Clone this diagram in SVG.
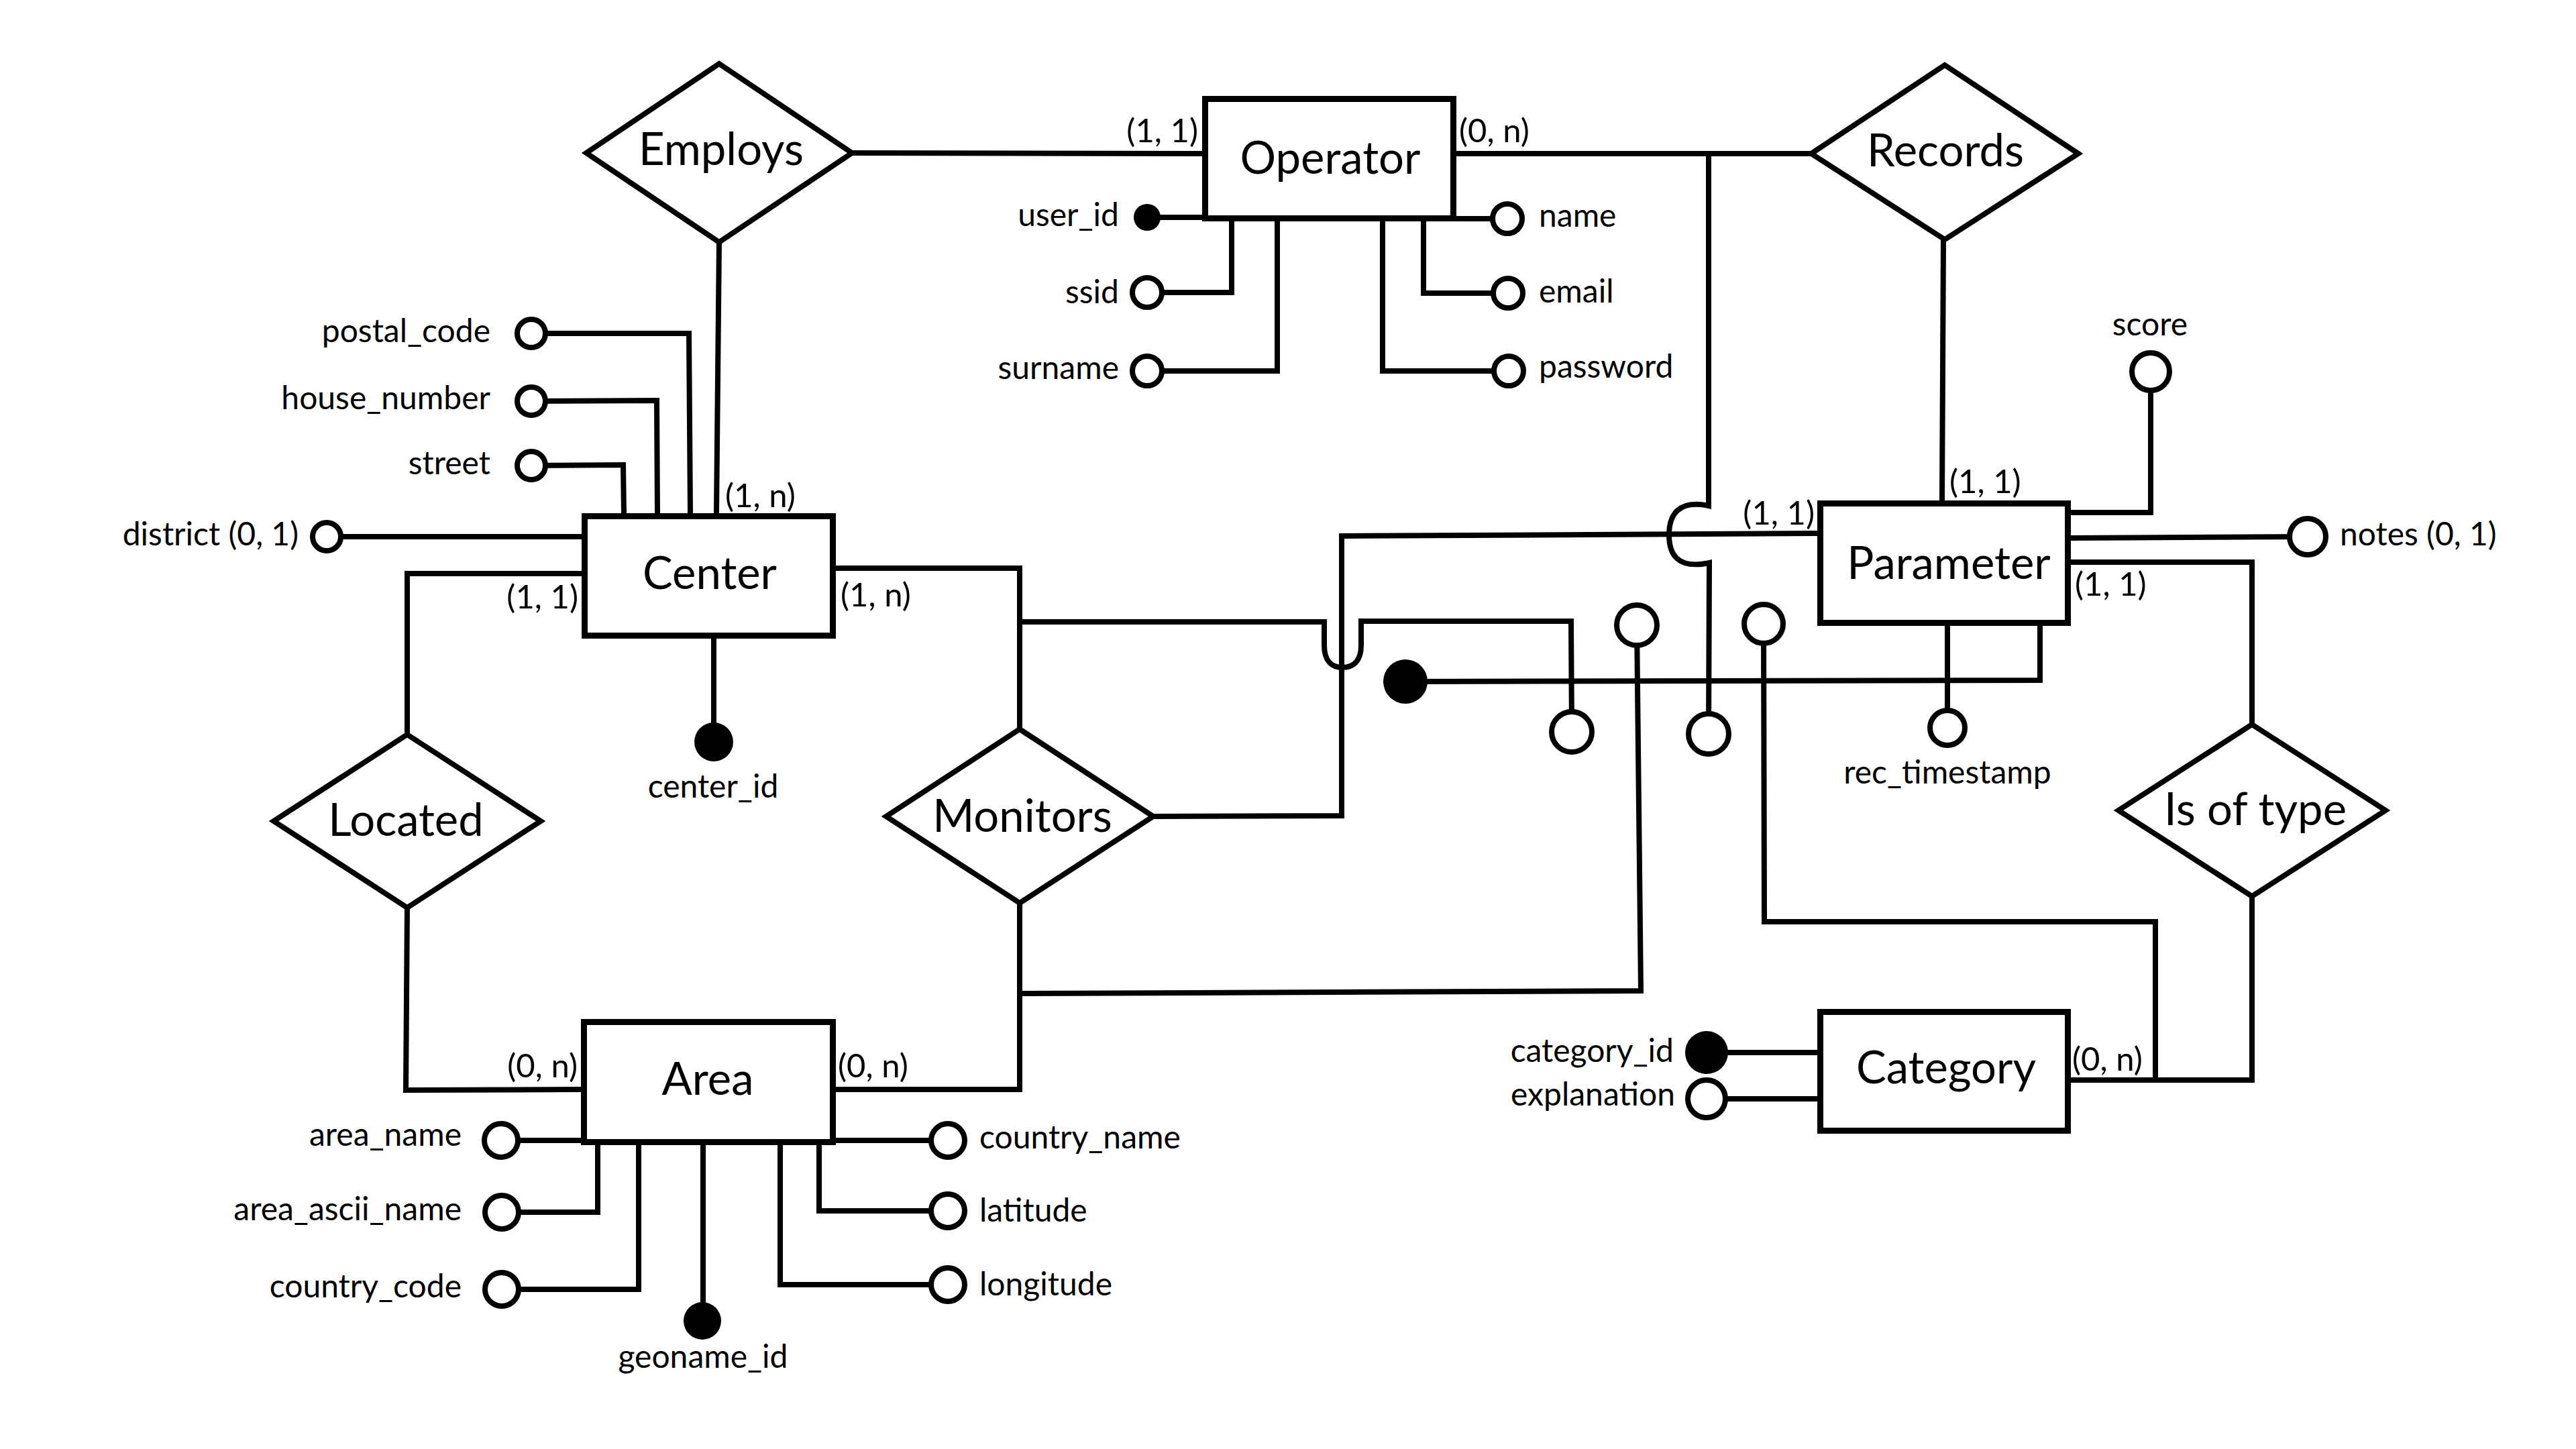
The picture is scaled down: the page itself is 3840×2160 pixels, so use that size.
<svg xmlns="http://www.w3.org/2000/svg" width="3840" height="2160" viewBox="0 0 3840 2160">
  <style>
    .box { fill: #fff; stroke: #000; stroke-width: 9; }
    .rel { fill: #fff; stroke: #000; stroke-width: 8; stroke-linejoin: miter; }
    .ln { fill: none; stroke: #000; stroke-width: 8; stroke-linejoin: miter; }
    .att { fill: #fff; stroke: #000; stroke-width: 8; }
    .key { fill: #000; stroke: none; }
    text { font-family: "Lato", "Open Sans", "Liberation Sans", sans-serif; fill: #000; }
    .name { font-size: 67px; text-anchor: middle; }
    .lbl { font-size: 48px; }
    .card { font-size: 49px; }
    .r { text-anchor: end; }
    .m { text-anchor: middle; }
  </style>
  <rect width="3840" height="2160" fill="#fff"/>

  <!-- relationship and attribute links -->
  <g id="connectors" class="ln">
    <path d="M1269,228 L1792,229"/>
    <path d="M1072,361 L1068,765"/>
    <path d="M2171,229 L2700,229"/>
    <path d="M2897,357 L2895,746"/>
    <path d="M2547,229 L2547,754 C2500,744 2488,770 2488,797 C2488,826 2500,849 2548,839 L2547,1094"/>
    <path d="M867,855 L607,855 L607,1095"/>
    <path d="M607,1353 L605,1625 L866,1624"/>
    <path d="M1246,847 L1520,847 L1520,1087"/>
    <path d="M1520,927 L1974,927 L1974,962 C1974,986 1986,995 2001,995 C2017,995 2029,986 2029,962 L2029,926 L2342,926 L2343,1091"/>
    <path d="M1246,1624 L1520,1624 L1520,1346"/>
    <path d="M1520,1481 L2446,1477 L2440,932"/>
    <path d="M1719,1217 L2000,1216 L2000,799 L2709,795"/>
    <path d="M3087,838 L3357,838 L3357,1080"/>
    <path d="M3087,1610 L3357,1610 L3357,1336"/>
    <path d="M2629,930 L2630,1374 L3213,1374 L3213,1610"/>

    <path d="M1710,324 L1792,324"/>
    <path d="M1710,436 L1836,436 L1836,330"/>
    <path d="M1710,553 L1904,553 L1904,330"/>
    <path d="M2171,326 L2247,326"/>
    <path d="M2248,437 L2122,437 L2122,330"/>
    <path d="M2249,553 L2061,553 L2061,330"/>
    <path d="M792,497 L1027,497 L1029,765"/>
    <path d="M792,598 L979,597 L980,765"/>
    <path d="M792,694 L929,693 L930,765"/>
    <path d="M487,800 L867,800"/>
    <path d="M1064,952 L1064,1106"/>
    <path d="M747,1700 L866,1700"/>
    <path d="M748,1807 L891,1807 L891,1707"/>
    <path d="M748,1922 L952,1922 L952,1707"/>
    <path d="M1048,1707 L1048,1969"/>
    <path d="M1246,1700 L1413,1700"/>
    <path d="M1413,1805 L1221,1805 L1221,1707"/>
    <path d="M1413,1915 L1163,1915 L1163,1707"/>
    <path d="M2095,1016 L3041,1014 L3041,933"/>
    <path d="M2903,933 L2903,1085"/>
    <path d="M3087,764 L3206,764 L3206,554"/>
    <path d="M3087,802 L3440,800"/>
    <path d="M2544,1569 L2709,1569"/>
    <path d="M2544,1638 L2709,1638"/>
  </g>

  <!-- entities -->
  <g id="operator">
    <rect class="box" x="1796.5" y="147.5" width="370" height="178"/>
    <text class="name" x="1983" y="259">Operator</text>
  </g>
  <g id="center">
    <rect class="box" x="871.5" y="769.5" width="370" height="178"/>
    <text class="name" x="1058" y="878">Center</text>
  </g>
  <g id="area">
    <rect class="box" x="870.5" y="1523.5" width="371" height="179"/>
    <text class="name" x="1055" y="1632">Area</text>
  </g>
  <g id="parameter">
    <rect class="box" x="2713.5" y="750.5" width="369" height="178"/>
    <text class="name" x="2905" y="863">Parameter</text>
  </g>
  <g id="category">
    <rect class="box" x="2713.5" y="1508.5" width="369" height="177"/>
    <text class="name" x="2901" y="1615">Category</text>
  </g>

  <!-- relationships -->
  <g id="employs">
    <polygon class="rel" points="1072,95 1270,228 1072,361 874,228"/>
    <text class="name" x="1075" y="246">Employs</text>
  </g>
  <g id="records">
    <polygon class="rel" points="2899,97 3098,229 2899,357 2700,229"/>
    <text class="name" x="2900" y="248">Records</text>
  </g>
  <g id="located">
    <polygon class="rel" points="607,1095 806,1224 607,1353 408,1224"/>
    <text class="name" x="605" y="1246">Located</text>
  </g>
  <g id="monitors">
    <polygon class="rel" points="1520,1087 1719,1217 1520,1346 1321,1217"/>
    <text class="name" x="1524" y="1240">Monitors</text>
  </g>
  <g id="is-of-type">
    <polygon class="rel" points="3357,1080 3556,1208 3357,1336 3158,1208"/>
    <text class="name" x="3362" y="1230">Is of type</text>
  </g>

  <!-- attributes -->
  <g id="attr-user-id"><circle class="key" cx="1710" cy="324" r="20"/><text class="lbl r" x="1668" y="337">user_id</text></g>
  <g id="attr-ssid"><circle class="att" cx="1710" cy="436" r="22"/><text class="lbl r" x="1668" y="452">ssid</text></g>
  <g id="attr-surname"><circle class="att" cx="1710" cy="553" r="22"/><text class="lbl r" x="1668" y="565">surname</text></g>
  <g id="attr-name"><circle class="att" cx="2247" cy="326" r="22"/><text class="lbl" x="2294" y="338">name</text></g>
  <g id="attr-email"><circle class="att" cx="2248" cy="437" r="22"/><text class="lbl" x="2294" y="451">email</text></g>
  <g id="attr-password"><circle class="att" cx="2249" cy="553" r="22"/><text class="lbl" x="2294" y="563">password</text></g>

  <g id="attr-postal-code"><circle class="att" cx="792" cy="497" r="21"/><text class="lbl r" x="731" y="510">postal_code</text></g>
  <g id="attr-house-number"><circle class="att" cx="792" cy="598" r="21"/><text class="lbl r" x="731" y="610">house_number</text></g>
  <g id="attr-street"><circle class="att" cx="792" cy="694" r="21"/><text class="lbl r" x="731" y="707">street</text></g>
  <g id="attr-district"><circle class="att" cx="487" cy="800" r="21"/><text class="lbl r" x="445" y="813">district (0, 1)</text></g>
  <g id="attr-center-id"><circle class="key" cx="1064" cy="1106" r="29"/><text class="lbl m" x="1063" y="1189">center_id</text></g>

  <g id="attr-area-name"><circle class="att" cx="747" cy="1700" r="25"/><text class="lbl r" x="688" y="1708">area_name</text></g>
  <g id="attr-area-ascii-name"><circle class="att" cx="748" cy="1807" r="25"/><text class="lbl r" x="688" y="1819">area_ascii_name</text></g>
  <g id="attr-country-code"><circle class="att" cx="748" cy="1922" r="25"/><text class="lbl r" x="688" y="1934">country_code</text></g>
  <g id="attr-geoname-id"><circle class="key" cx="1047" cy="1969" r="28"/><text class="lbl m" x="1048" y="2039">geoname_id</text></g>
  <g id="attr-country-name"><circle class="att" cx="1413" cy="1700" r="25"/><text class="lbl" x="1460" y="1712">country_name</text></g>
  <g id="attr-latitude"><circle class="att" cx="1413" cy="1805" r="25"/><text class="lbl" x="1460" y="1821">latitude</text></g>
  <g id="attr-longitude"><circle class="att" cx="1413" cy="1915" r="25"/><text class="lbl" x="1460" y="1931">longitude</text></g>

  <g id="attr-parameter-key"><circle class="key" cx="2095" cy="1016" r="33"/></g>
  <g id="attr-rec-timestamp"><circle class="att" cx="2903" cy="1085" r="26"/><text class="lbl m" x="2903" y="1168">rec_timestamp</text></g>
  <g id="attr-score"><circle class="att" cx="3206" cy="554" r="28"/><text class="lbl m" x="3205" y="500">score</text></g>
  <g id="attr-notes"><circle class="att" cx="3440" cy="800" r="27"/><text class="lbl" x="3488" y="813">notes (0, 1)</text></g>
  <g id="attr-category-id"><circle class="key" cx="2544" cy="1569" r="32"/><text class="lbl r" x="2495" y="1583">category_id</text></g>
  <g id="attr-explanation"><circle class="att" cx="2544" cy="1638" r="28"/><text class="lbl r" x="2497" y="1648">explanation</text></g>

  <g id="attr-monitors-a"><circle class="att" cx="2343" cy="1091" r="30"/></g>
  <g id="attr-monitors-b"><circle class="att" cx="2440" cy="932" r="30"/></g>
  <g id="attr-records"><circle class="att" cx="2547" cy="1094" r="30"/></g>
  <g id="attr-is-of-type"><circle class="att" cx="2629" cy="930" r="29"/></g>

  <!-- cardinalities -->
  <g id="cardinalities" class="card">
    <text class="r" x="1786" y="212">(1, 1)</text>
    <text x="2175" y="212">(0, n)</text>
    <text x="1081" y="756">(1, n)</text>
    <text class="r" x="862" y="907">(1, 1)</text>
    <text x="1253" y="904">(1, n)</text>
    <text class="r" x="861" y="1606">(0, n)</text>
    <text x="1249" y="1606">(0, n)</text>
    <text class="r" x="2705" y="782">(1, 1)</text>
    <text x="2906" y="735">(1, 1)</text>
    <text x="3093" y="888">(1, 1)</text>
    <text x="3089" y="1596">(0, n)</text>
  </g>
</svg>
